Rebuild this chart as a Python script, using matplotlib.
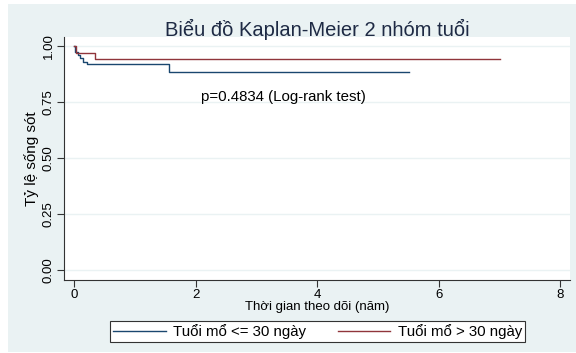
import matplotlib
matplotlib.use("Agg")
import matplotlib.pyplot as plt
from matplotlib.patches import Rectangle

# Kaplan-Meier estimates
t_le30 = [0, 0.02, 0.06, 0.10, 0.15, 0.22, 1.56, 5.51]
s_le30 = [1.0, 0.975, 0.96, 0.945, 0.93, 0.918, 0.884, 0.884]
t_gt30 = [0, 0.03, 0.35, 7.01]
s_gt30 = [1.0, 0.967, 0.94, 0.94]

labels = ['Tuổi mổ <= 30 ngày', 'Tuổi mổ > 30 ngày']
xticks = [0, 2, 4, 6, 8]
yticks = [0.0, 0.25, 0.5, 0.75, 1.0]
ytick_labels = ['0.00', '0.25', '0.50', '0.75', '1.00']
pval_text = 'p=0.4834 (Log-rank test)'

plt.rcParams['font.family'] = ['Liberation Sans', 'DejaVu Sans']

W, H = 576, 353
fig = plt.figure(figsize=(W / 100, H / 100), dpi=100)
fig.patch.set_facecolor('white')
# stata-like light background panel
fig.patches.append(Rectangle((8 / W, 1 / H), 568 / W, 348 / H, transform=fig.transFigure,
                             facecolor='#EAF2F3', edgecolor='none', zorder=0))

ax = fig.add_axes([64 / W, 1 - 280 / H, 506 / W, 243 / H])
ax.set_facecolor('white')
ax.set_zorder(1)

ax.step(t_le30, s_le30, where='post', color='#1A476F', lw=1.0, label=labels[0])
ax.step(t_gt30, s_gt30, where='post', color='#90353B', lw=1.0, label=labels[1])

ax.set_xlim(-0.165, 8.16)
ax.set_ylim(-0.045, 1.04)
ax.set_xticks(xticks)
ax.set_yticks(yticks)
ax.set_yticklabels(ytick_labels, rotation=90, va='center')
ax.tick_params(axis='both', labelsize=9.5, length=5, width=0.8, color='#333333',
               direction='out', pad=1.5)
ax.grid(axis='y', color='#EAF2F3', lw=1.0)
ax.set_axisbelow(True)
for side in ['top', 'right']:
    ax.spines[side].set_visible(False)
for side in ['left', 'bottom']:
    ax.spines[side].set_color('#333333')
    ax.spines[side].set_linewidth(0.8)

ax.text(2.09, 0.772, pval_text, fontsize=10.8, va='center', ha='left')
ax.set_xlabel('Thời gian theo dõi (năm)', fontsize=9.5, labelpad=0)

fig.text(32 / W, 1 - 159 / H, 'Tỷ lệ sống sót', rotation=90, fontsize=11, ha='center', va='center')
fig.text(317 / W, 1 - 29 / H, 'Biểu đồ Kaplan-Meier 2 nhóm tuổi', fontsize=14.5,
         color='#1E2A44', ha='center', va='center')

leg = fig.legend(loc='center', bbox_to_anchor=(317.5 / W, 1 - 331.5 / H), ncol=2, fontsize=10.8,
                 frameon=True, fancybox=False, edgecolor='#333333', framealpha=1,
                 handlelength=3.5, columnspacing=2.1, borderpad=0.2, handletextpad=0.5)
leg.get_frame().set_linewidth(0.8)

fig.savefig('out.png', dpi=100)
